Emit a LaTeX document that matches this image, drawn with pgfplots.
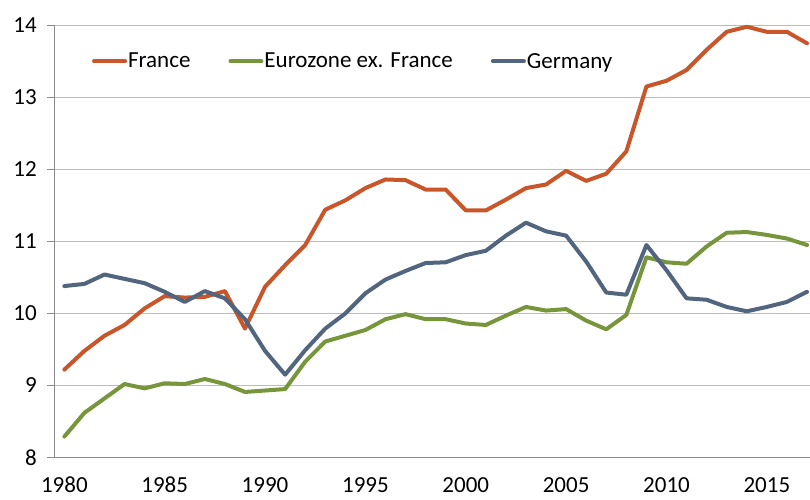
\documentclass[border=0pt]{standalone}
\usepackage{fontspec}
\setmainfont{Carlito}
\usepackage{pgfplots}
\usepackage{pgfplotstable}
\pgfplotsset{compat=1.18}
\definecolor{cfr}{HTML}{C8562A}
\definecolor{ceu}{HTML}{77963C}
\definecolor{cde}{HTML}{51657F}
\definecolor{cgrid}{HTML}{BBBBBB}
\definecolor{caxis}{HTML}{8C8C8C}
\pgfplotstableread{
year france euro germany
1980 9.22 8.29 10.38
1981 9.48 8.62 10.41
1982 9.69 8.82 10.54
1983 9.84 9.02 10.48
1984 10.07 8.96 10.42
1985 10.24 9.03 10.30
1986 10.22 9.02 10.16
1987 10.23 9.09 10.31
1988 10.31 9.02 10.21
1989 9.79 8.91 9.92
1990 10.37 8.93 9.48
1991 10.67 8.95 9.15
1992 10.95 9.33 9.49
1993 11.44 9.61 9.79
1994 11.57 9.69 10.00
1995 11.74 9.77 10.28
1996 11.86 9.92 10.47
1997 11.85 9.99 10.59
1998 11.72 9.92 10.70
1999 11.72 9.92 10.71
2000 11.43 9.86 10.81
2001 11.43 9.84 10.87
2002 11.58 9.97 11.08
2003 11.74 10.09 11.26
2004 11.79 10.04 11.14
2005 11.98 10.06 11.08
2006 11.84 9.90 10.72
2007 11.94 9.78 10.29
2008 12.25 9.98 10.26
2009 13.15 10.78 10.95
2010 13.23 10.71 10.60
2011 13.38 10.69 10.21
2012 13.66 10.93 10.19
2013 13.91 11.12 10.09
2014 13.98 11.13 10.03
2015 13.91 11.09 10.09
2016 13.91 11.04 10.16
2017 13.75 10.95 10.30
}\datatable
\begin{document}
\begin{tikzpicture}
\useasboundingbox (-54.3pt,-41.5pt) rectangle (755.7pt,457.5pt);
\begin{axis}[
  at={(0pt,0pt)}, anchor=south west,
  scale only axis, width=755.7pt, height=432.2pt,
  xmin=1979.5, xmax=2017.15, ymin=8, ymax=14,
  axis x line*=bottom, axis y line*=left,
  axis line style={caxis, line width=1pt, -},
  ytick={8,9,...,14},
  xtick={1980,1985,...,2015},
  major x tick style={draw=none},
  extra x ticks={1979.5,1984.5,...,2014.5},
  extra x tick labels={},
  extra x tick style={major tick length=7pt, tick style={caxis, line width=1pt}},
  major tick length=7pt,
  tick align=outside,
  y tick style={caxis, line width=1pt},
  ymajorgrids,
  grid style={cgrid, line width=1.2pt},
  /pgf/number format/assume math mode=true,
  /pgf/number format/1000 sep={},
  tick label style={font=\fontsize{23}{27}\selectfont, text=black},
  yticklabel style={xshift=-7pt},
  xticklabel style={inner ysep=0pt, text depth=0pt, yshift=-12.5pt},
  clip=false,
  legend style={at={(axis description cs:0.05,0.9167)}, anchor=west, draw=none, fill=none,
    inner sep=0pt, outer sep=0pt,
    font=\fontsize{23}{27}\selectfont,
    nodes={inner xsep=1pt, inner ysep=0pt},
    /tikz/every even column/.append style={column sep=37pt}},
  legend columns=3,
  legend image code/.code={\draw[#1] (0pt,0pt) -- (31pt,0pt);},
  every axis plot/.append style={line width=4pt, line join=round, line cap=round},
]
\addplot[cfr] table[x=year, y=france] {\datatable};
\addlegendentry{France}
\addplot[ceu] table[x=year, y=euro] {\datatable};
\addlegendentry{Eurozone ex. France}
\addplot[cde] table[x=year, y=germany] {\datatable};
\addlegendentry{Germany}
\end{axis}
\end{tikzpicture}
\end{document}
